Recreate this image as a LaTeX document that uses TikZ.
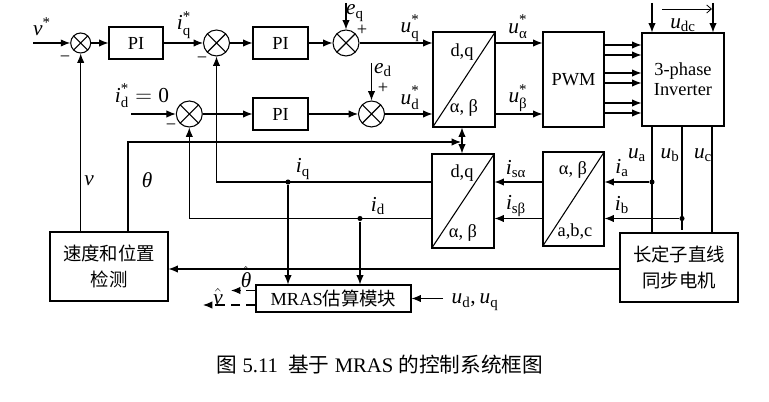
\documentclass[tikz,border=0pt]{standalone}
\usepackage{fontspec}
\usepackage{amsmath}
\setmainfont{Liberation Serif}
\newfontfamily\cjk{Noto Sans CJK SC}
\usetikzlibrary{arrows.meta,calc}
\newcommand\vsu[3]{$\textit{#1}^{\text{#2}}_{\text{#3}}$}
\newcommand\vsb[2]{$\textit{#1}_{\text{#2}}$}
\newcommand\vsp[2]{$\textit{#1}^{\text{#2}}$}
\begin{document}
\begin{tikzpicture}[x=0.75pt,y=-0.75pt,
  font=\fontsize{13.8}{16}\selectfont,
  line width=0.8pt,
  >={Latex[length=7pt,width=5.5pt]},
  wh/.style 2 args={draw,inner sep=0pt,minimum width=#1*0.75pt,minimum height=#2*0.75pt},
  sumnode/.style={circle,draw,inner sep=0pt,minimum size=#1*0.75pt,
    path picture={\draw (path picture bounding box.north west) -- (path picture bounding box.south east)
      (path picture bounding box.north east) -- (path picture bounding box.south west);}},
  dotnode/.style={circle,fill,inner sep=0pt,minimum size=3.8pt},
  lbl/.style={inner sep=0pt},
  ml/.style={inner sep=0pt,font=\fontsize{16}{18}\selectfont},
  dsh/.style={dash pattern=on 7pt off 4.5pt}]
\useasboundingbox (0,0) rectangle (769,402);

% blocks
\node[wh={54}{32}] (PI1) at (136,43) {PI};
\node[wh={55}{32}] (PI2) at (280.5,43) {PI};
\node[wh={55}{32}] (PI3) at (280.5,114) {PI};
\node[sumnode=20] (S1) at (80.7,43) {};
\node[sumnode=26] (S2) at (216.5,43) {};
\node[sumnode=26] (S3) at (189.3,114) {};
\node[sumnode=26] (S4) at (346,43) {};
\node[sumnode=26] (S5) at (371.5,114) {};
\node[wh={62}{95}] (T1) at (464,79.5) {};
\node[wh={62}{94}] (T2) at (463,201) {};
\node[wh={61}{94}] (T3) at (573.5,199) {};
\node[wh={61}{95}] (PWM) at (573.5,79.5) {PWM};
\node[wh={82}{93}, align=center] (INV) at (683,79.5) {3-phase\\[-1pt]Inverter};
\node[wh={118}{69}, align=center, font=\cjk\fontsize{13.8}{20}\selectfont] (Motor) at (679,267.5) {长定子直线\\同步电机};
\node[wh={118}{69}, align=center, font=\cjk\fontsize{13.8}{20}\selectfont] (Speed) at (109,266.5) {速度和位置\\检测};
\node[wh={155}{27}] (MRAS) at (333.5,298.5) {MRAS{\cjk 估算模块}};

% transform diagonals and texts
\draw (T1.south west) -- (T1.north east);
\draw (T2.south west) -- (T2.north east);
\draw (T3.south west) -- (T3.north east);
\node[lbl] (T1a) at (462,52) {d,q};
\node[lbl] (T1b) at (464,108) {α, β};
\node[lbl] (T2a) at (462,173) {d,q};
\node[lbl] (T2b) at (463,233) {α, β};
\node[lbl] (T3a) at (573,170) {α, β};
\node[lbl] (T3b) at (575,232) {a,b,c};

% coordinates
\coordinate (vin) at (33,43);
\coordinate (idin) at (131,114);
\coordinate (eqin) at (346,3);
\coordinate (edin) at (371.5,63);
\coordinate (dc1) at (652,3);
\coordinate (dc2) at (713,3);
\coordinate (ua1) at (662,9);
\coordinate (ua2) at (712,9);
\coordinate (xa) at (652,0);
\coordinate (xb) at (682,0);
\coordinate (xc) at (712,0);
\coordinate (ubend) at (682,230);
\coordinate (thx) at (128,142);
\coordinate (thend) at (461,142);
\coordinate (tx) at (462,0);
\coordinate (fb) at (0,269);
\coordinate (udq) at (443,298.5);
\coordinate (thh0) at (0,290.5);
\coordinate (vh0) at (0,305);
\coordinate (thhat) at (231,290.5);
\coordinate (vhat) at (203,305);
\node[dotnode] (Da) at (652,182) {};
\node[dotnode] (Db) at (682,218.5) {};
\node[dotnode] (Dq) at (288,182) {};
\node[dotnode] (Did) at (360,218.5) {};

% forward path
\draw[->] (vin) -- (S1);
\draw[->] (S1) -- (PI1);
\draw[->] (PI1) -- (S2);
\draw[->] (S2) -- (PI2);
\draw[->] (PI2) -- (S4);
\draw[->] (eqin) -- (S4);
\draw[->] (S4) -- (S4 -| T1.west);
\draw[->] (idin) -- (S3);
\draw[->] (S3) -- (PI3);
\draw[->] (PI3) -- (S5);
\draw[->] (edin) -- (S5);
\draw[->] (S5) -- (S5 -| T1.west);
\draw[->] (T1.east |- S4) -- (PWM.west |- S4);
\draw[->] (T1.east |- S5) -- (PWM.west |- S5);
\foreach \yy in {45,55,73,83,103,113}
  \draw[->] (PWM.east |- 0,\yy) -- (INV.west |- 0,\yy);
\draw[->] (dc1) -- (dc1 |- INV.north);
\draw[->] (dc2) -- (dc2 |- INV.north);
\draw[-{Straight Barb[length=3.5pt,width=6pt]}, line width=0.6pt] (ua1) -- (ua2);
\draw (xa |- INV.south) -- (xa |- Motor.north);
\draw (xb |- INV.south) -- (ubend);
\draw (xc |- INV.south) -- (xc |- Motor.north);

% feedback
\draw[->] (Da) -- (Da -| T3.east);
\draw[->] (Db) -- (Db -| T3.east);
\draw[->] (T3.west |- Da) -- (T2.east |- Da);
\draw[->] (T3.west |- Db) -- (T2.east |- Db);
\draw[->] (T2.west |- Dq) -- (S2 |- Dq) -- (S2);
\draw[->] (T2.west |- Did) -- (S3 |- Did) -- (S3);
\draw[->] (Dq) -- (Dq |- MRAS.north);
\draw[->] (Did) -- (Did |- MRAS.north);
\draw[->] (S1 |- Speed.north) -- (S1);
\draw[->] (thx |- Speed.north) -- (thx) -- (thend);
\draw[<->] (tx |- T1.south) -- (tx |- T2.north);
\draw[->] (Motor.west |- fb) -- (Speed.east |- fb);
\draw[->] (udq) -- (udq -| MRAS.east);
\draw[->,dsh] (MRAS.west |- thh0) -- (thhat);
\draw[->,dsh] (MRAS.west |- vh0) -- (vhat);

% labels
\node[ml] (Lvs) at (42,27) {\vsp{v}{*}};
\node[ml] (Liq) at (184,25) {\vsu{i}{*}{q}};
\node[ml] (Lid) at (142,96) {$\textit{i}^{\text{*}}_{\text{d}}=\text{0}$};
\node[ml] (Leq) at (355,13) {\vsb{e}{q}};
\node[ml] (Led) at (383,70) {\vsb{e}{d}};
\node[lbl] (Lp1) at (362,30) {+};
\node[lbl] (Lp2) at (383,88) {+};
\node[lbl] (Lm1) at (65,59) {−};
\node[lbl] (Lm2) at (202,60) {−};
\node[lbl] (Lm3) at (171,127) {−};
\node[ml] (Luq) at (410,28) {\vsu{u}{*}{q}};
\node[ml] (Lud) at (410,98) {\vsu{u}{*}{d}};
\node[ml] (Lua) at (518,27) {\vsu{u}{*}{α}};
\node[ml] (Lub) at (518,98) {\vsu{u}{*}{β}};
\node[ml] (Ludc) at (683,25) {\vsb{u}{dc}};
\node[ml] (Lia) at (622,168) {\vsb{i}{a}};
\node[ml] (Lib) at (622,205) {\vsb{i}{b}};
\node[ml] (Luaa) at (637,155) {\vsb{u}{a}};
\node[ml] (Lubb) at (670,155) {\vsb{u}{b}};
\node[ml] (Lucc) at (703,155) {\vsb{u}{c}};
\node[ml] (Lisa) at (516,169) {\vsb{i}{sα}};
\node[ml] (Lisb) at (516,206) {\vsb{i}{sβ}};
\node[ml] (Liqq) at (303,169) {\vsb{i}{q}};
\node[ml] (Lidd) at (378,206) {\vsb{i}{d}};
\node[ml] (Lv) at (89,181) {\textit{v}};
\node[ml] (Lth) at (147,180) {\textit{θ}};
\node[ml] (Ludq) at (475,302) {$\textit{u}_{\text{d}}\text{,}\,\textit{u}_{\text{q}}$};
\node[ml] (Lthh) at (246,277) {$\hat{\textit{θ}}$};
\node[ml] (Lvh) at (218,297) {$\hat{\textit{v}}$};

% caption
\node[lbl, font=\fontsize{15.5}{18}\selectfont] (cap) at (380,365) {{\cjk 图} 5.11\enspace{\cjk 基于} MRAS {\cjk 的控制系统框图}};
\end{tikzpicture}
\end{document}
